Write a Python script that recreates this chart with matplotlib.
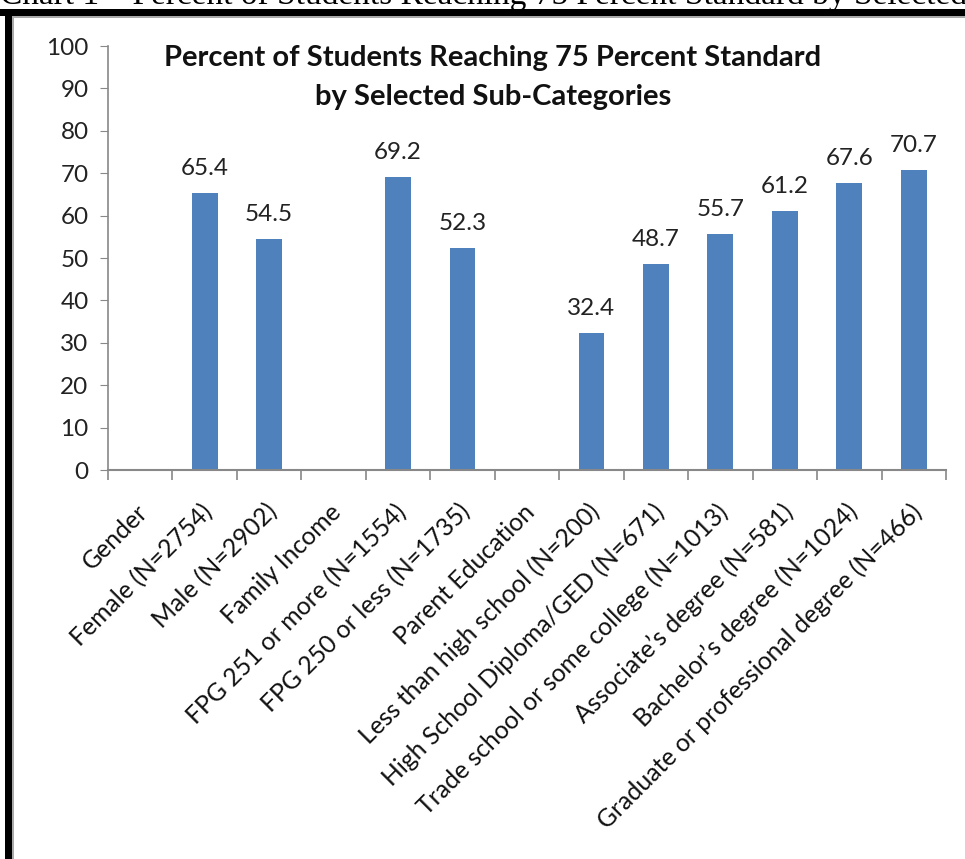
import matplotlib.pyplot as plt
from matplotlib.patches import Rectangle

categories = [
    "Gender", "Female (N=2754)", "Male (N=2902)", "Family Income",
    "FPG 251 or more (N=1554)", "FPG 250 or less (N=1735)", "Parent Education",
    "Less than high school (N=200)", "High School Diploma/GED (N=671)",
    "Trade school or some college (N=1013)", "Associate\u2019s degree (N=581)",
    "Bachelor\u2019s degree (N=1024)", "Graduate or professional degree (N=466)",
]
values = [None, 65.4, 54.5, None, 69.2, 52.3, None, 32.4, 48.7, 55.7, 61.2, 67.6, 70.7]

W, H = 965, 859
fig = plt.figure(figsize=(W / 100, H / 100), dpi=100)
plt.rcParams['font.family'] = ['Lato', 'DejaVu Sans']

ax = fig.add_axes([108 / W, 1 - 470 / H, (946 - 108) / W, (470 - 46) / H])

xs = [i for i, v in enumerate(values) if v is not None]
vs = [v for v in values if v is not None]
ax.bar(xs, vs, width=0.4, color='#4F81BD', zorder=2)
for x, v in zip(xs, vs):
    ax.text(x, v + 3.3, f"{v:.1f}", ha='center', va='bottom', fontsize=17.5, color='#222222')

ax.set_xlim(-0.5, len(categories) - 0.5)
ax.set_ylim(0, 100)
ax.set_yticks(range(0, 101, 10))
ax.tick_params(axis='y', labelsize=17.5, length=6, color='#888888', pad=8, labelcolor='#222222')

ax.set_xticks([i - 0.5 for i in range(len(categories) + 1)])
ax.set_xticklabels([])
ax.tick_params(axis='x', length=7, color='#888888', width=1.2)
for i, lab in enumerate(categories):
    ax.annotate(lab, xy=(i, 0), xycoords=('data', 'axes fraction'),
                xytext=(4, -38), textcoords='offset pixels',
                rotation=45, rotation_mode='anchor', ha='right', va='center',
                fontsize=17.8, color='#111111')

for s in ['top', 'right']:
    ax.spines[s].set_visible(False)
ax.spines['left'].set_color('#888888')
ax.spines['bottom'].set_color('#888888')
ax.spines['left'].set_linewidth(1.2)
ax.spines['bottom'].set_linewidth(1.5)

fig.text(493 / W, 1 - 58 / H, "Percent of Students Reaching 75 Percent Standard",
         ha='center', va='center', fontsize=21, fontweight='bold', color='#111111')
fig.text(493 / W, 1 - 97 / H, "by Selected Sub-Categories",
         ha='center', va='center', fontsize=21, fontweight='bold', color='#111111')

# clipped document caption above the chart frame
fig.text(0.0, 1 - 4 / H, "Chart 1 \u2013 Percent of Students Reaching 75 Percent Standard by Selected Sub-Categories",
         ha='left', va='baseline', fontsize=24, family='Liberation Serif', color='black')

# frame around the chart
fig.add_artist(Rectangle((0, 1 - 16 / H), 1, 7 / H, transform=fig.transFigure, color='black', lw=0))
fig.add_artist(Rectangle((5 / W, 0), 7 / W, 1 - 9 / H, transform=fig.transFigure, color='black', lw=0))
fig.add_artist(Rectangle((12 / W, 0), 2 / W, 1 - 16 / H, transform=fig.transFigure, color='#aaaaaa', lw=0))
fig.add_artist(Rectangle((12 / W, 1 - 18 / H), 1, 2 / H, transform=fig.transFigure, color='#aaaaaa', lw=0))

fig.savefig("out.png", dpi=100)
